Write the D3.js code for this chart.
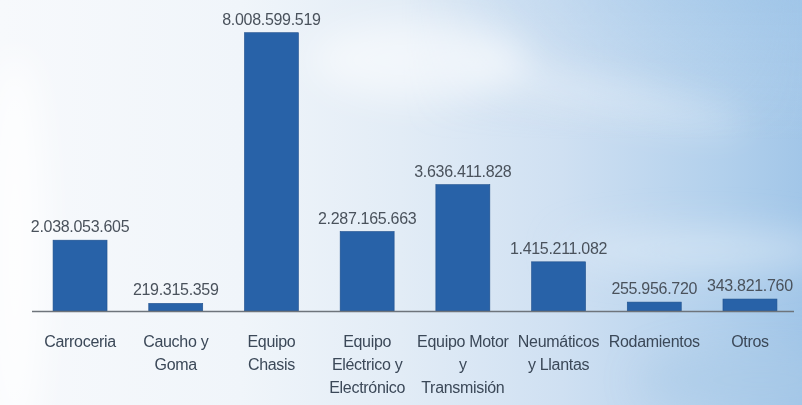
<!DOCTYPE html>
<html>
<head>
<meta charset="utf-8">
<script src="https://cdn.jsdelivr.net/npm/d3@7"></script>
<style>
  html, body { margin: 0; padding: 0; background: #ffffff; }
  svg { display: block; }
  text { font-family: "Liberation Sans", Arial, sans-serif; }
</style>
</head>
<body>
<svg id="chart" width="802" height="405"></svg>
<script>
// Categories (line breaks mark wrapped axis labels) and their values
const categories = [
  "Carroceria",
  "Caucho y\nGoma",
  "Equipo\nChasis",
  "Equipo\nEléctrico y\nElectrónico",
  "Equipo Motor\ny\nTransmisión",
  "Neumáticos\ny Llantas",
  "Rodamientos",
  "Otros"
];
const values = [
  2038053605,
  219315359,
  8008599519,
  2287165663,
  3636411828,
  1415211082,
  255956720,
  343821760
];
const valueLabels = [
  "2.038.053.605",
  "219.315.359",
  "8.008.599.519",
  "2.287.165.663",
  "3.636.411.828",
  "1.415.211.082",
  "255.956.720",
  "343.821.760"
];

const W = 802, H = 405;
const svg = d3.select("#chart");
const defs = svg.append("defs");

// Sky backdrop: white on the left fading to light blue on the right
const sky = defs.append("linearGradient").attr("id", "sky")
  .attr("x1", "0").attr("y1", "0").attr("x2", "1").attr("y2", "0");
[[0, "#f7f9fc"], [0.3, "#f0f5fa"], [0.5, "#e2ecf6"], [0.7, "#cfe0f2"], [0.9, "#b2d0ec"], [1, "#a2c6e8"]]
  .forEach(([o, c]) => sky.append("stop").attr("offset", o).attr("stop-color", c));

const topShade = defs.append("linearGradient").attr("id", "topShade")
  .attr("x1", "0").attr("y1", "0").attr("x2", "0").attr("y2", "1");
[[0, "#9fc5e8", 0.6], [0.35, "#b9d5ef", 0.0], [1, "#b9d5ef", 0]]
  .forEach(([o, c, a]) => topShade.append("stop").attr("offset", o).attr("stop-color", c).attr("stop-opacity", a));

const fade = defs.append("linearGradient").attr("id", "fade")
  .attr("x1", "0").attr("y1", "0").attr("x2", "1").attr("y2", "0");
[[0, 0], [0.5, 0], [1, 1]].forEach(([o, a]) =>
  fade.append("stop").attr("offset", o).attr("stop-color", "#fff").attr("stop-opacity", a));
const fadeMask = defs.append("mask").attr("id", "fadeMask");
fadeMask.append("rect").attr("width", W).attr("height", H).attr("fill", "url(#fade)");

const blur = defs.append("filter").attr("id", "cloud")
  .attr("x", "-50%").attr("y", "-50%").attr("width", "200%").attr("height", "200%");
blur.append("feGaussianBlur").attr("stdDeviation", 18);

svg.append("rect").attr("width", W).attr("height", H).attr("fill", "url(#sky)");
svg.append("rect").attr("width", W).attr("height", H).attr("fill", "url(#topShade)")
  .attr("mask", "url(#fadeMask)");

// Soft cloud streaks
const clouds = svg.append("g").attr("filter", "url(#cloud)");
clouds.append("ellipse").attr("cx", 600).attr("cy", 95).attr("rx", 150).attr("ry", 18)
  .attr("fill", "#ffffff").attr("opacity", 0.3).attr("transform", "rotate(12 600 95)");
clouds.append("ellipse").attr("cx", 700).attr("cy", 250).attr("rx", 140).attr("ry", 22)
  .attr("fill", "#e6f0f9").attr("opacity", 0.5);
clouds.append("ellipse").attr("cx", 420).attr("cy", 60).attr("rx", 110).attr("ry", 40)
  .attr("fill", "#ffffff").attr("opacity", 0.55);
clouds.append("ellipse").attr("cx", 760).attr("cy", 380).attr("rx", 120).attr("ry", 30)
  .attr("fill", "#a9cae8").attr("opacity", 0.5);
clouds.append("ellipse").attr("cx", 15).attr("cy", 250).attr("rx", 30).attr("ry", 200)
  .attr("fill", "#ffffff").attr("opacity", 0.8);

// Scales
const baseY = 311;
const x = d3.scaleBand()
  .domain(categories)
  .range([32, 798])
  .paddingInner(0.436)
  .paddingOuter(0.22);
const y = d3.scaleLinear()
  .domain([0, 9e9])
  .range([baseY, baseY - 9 * 34.75]);

const data = categories.map((c, i) => ({ cat: c, value: values[i], label: valueLabels[i] }));

// Bars
svg.append("g").selectAll("rect").data(data).join("rect")
  .attr("x", d => x(d.cat))
  .attr("y", d => y(d.value))
  .attr("width", x.bandwidth())
  .attr("height", d => y(0) - y(d.value))
  .attr("fill", "#2862a8")
  .attr("stroke", "#1f4f8c")
  .attr("stroke-width", 0.6);

// Value labels above bars
svg.append("g").selectAll("text").data(data).join("text")
  .attr("x", d => x(d.cat) + x.bandwidth() / 2)
  .attr("y", d => y(d.value) - 8)
  .attr("text-anchor", "middle")
  .attr("font-size", 16)
  .attr("letter-spacing", -0.3)
  .attr("fill", "#4a525c")
  .text(d => d.label);

// Category axis
const axis = svg.append("g")
  .attr("transform", `translate(0,${baseY})`)
  .call(d3.axisBottom(x).tickSize(0).tickFormat(""));
axis.select(".domain")
  .attr("d", "M32,0.5H794")
  .attr("stroke", "#6e747b")
  .attr("stroke-width", 1.5);

axis.selectAll(".tick").each(function (d) {
  const t = d3.select(this).append("text")
    .attr("fill", "#3b4858")
    .attr("font-size", 16)
    .attr("letter-spacing", -0.3)
    .attr("text-anchor", "middle");
  d.split("\n").forEach((line, i) => {
    t.append("tspan").attr("x", 0).attr("y", 36 + i * 23).text(line);
  });
});
</script>
</body>
</html>
